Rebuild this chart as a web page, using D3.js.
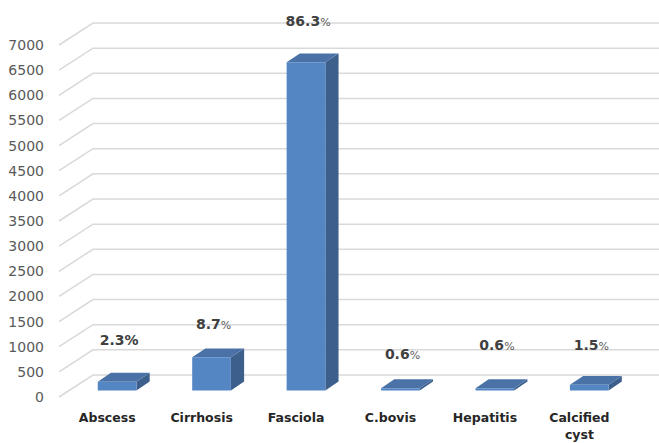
<!DOCTYPE html>
<html>
<head>
<meta charset="utf-8">
<script src="https://cdn.jsdelivr.net/npm/d3@7/dist/d3.min.js"></script>
<style>
  html, body { margin: 0; padding: 0; background: #ffffff; }
  svg { display: block; font-family: "DejaVu Sans", sans-serif; }
</style>
</head>
<body>
<svg id="chart" width="659" height="443"></svg>
<script>
// Liver condemnation causes: case counts per category
const categories = ["Abscess", "Cirrhosis", "Fasciola", "C.bovis", "Hepatitis", "Calcified cyst"];
const counts = [174, 658, 6524, 45, 45, 113];
const yTicks = [0, 500, 1000, 1500, 2000, 2500, 3000, 3500, 4000, 4500, 5000, 5500, 6000, 6500, 7000];

const total = d3.sum(counts);
const shares = counts.map(c => c / total * 100);

const svg = d3.select("#chart");

// 3D layout: front plane of the plot and the depth vector to the back wall
const DX = 33, DY = -22;
const x = d3.scaleBand().domain(categories).range([60, 626.6]).paddingInner(0).paddingOuter(0);
const y = d3.scaleLinear().domain([0, 7000]).range([397, 45]);

const barFront = 0.30;   // depth fraction where the bar's front face sits
const barDepth = 0.40;   // depth fraction occupied by the bar
const barWidthFrac = 0.41;

function pt(px, v, d) { return [px + d * DX, y(v) + d * DY]; }

// Gridlines: diagonal on the floor side, horizontal along the back wall
const grid = svg.append("g").attr("class", "grid");
yTicks.forEach(t => {
  const f = pt(59, t, 0), b = pt(60, t, 1);
  grid.append("path")
    .attr("d", `M${f[0]},${f[1]}L${b[0]},${b[1]}L659,${b[1]}`)
    .attr("fill", "none")
    .attr("stroke", "#d9d9d9")
    .attr("stroke-width", 1.5);
});

// Value axis labels
const yAxis = d3.axisLeft(y).tickValues(yTicks).tickSize(0).tickPadding(15).tickFormat(d3.format("d"));
const ya = svg.append("g").attr("transform", "translate(59,0)").call(yAxis);
ya.select(".domain").remove();
ya.selectAll("text")
  .attr("font-family", "DejaVu Sans, sans-serif")
  .attr("font-size", 14)
  .attr("fill", "#595959");

// Bars as 3D boxes
const colFront = "#5486c4", colTop = "#4a72a6", colSide = "#3d5f8c";
const bars = svg.append("g").attr("class", "bars");
categories.forEach((c, i) => {
  const v = counts[i];
  const bw = x.bandwidth() * barWidthFrac;
  const x0 = x(c) + (x.bandwidth() - bw) / 2, x1 = x0 + bw;
  const d0 = barFront, d1 = barFront + barDepth;
  const ftl = pt(x0, v, d0), ftr = pt(x1, v, d0), fbr = pt(x1, 0, d0), fbl = pt(x0, 0, d0);
  const btl = pt(x0, v, d1), btr = pt(x1, v, d1), bbr = pt(x1, 0, d1);
  const poly = p => "M" + p.map(q => q.join(",")).join("L") + "Z";
  const g = bars.append("g");
  g.append("path").attr("d", poly([ftr, btr, bbr, fbr])).attr("fill", colSide);
  g.append("path").attr("d", poly([ftl, ftr, btr, btl])).attr("fill", colTop);
  g.append("path").attr("d", poly([ftl, ftr, fbr, fbl])).attr("fill", colFront);
});

// Category labels on the front floor edge
const xAxis = d3.axisBottom(x).tickSize(0).tickPadding(0);
const xa = svg.append("g").attr("transform", "translate(0,409)").call(xAxis);
xa.select(".domain").remove();
xa.selectAll("text")
  .attr("font-family", "DejaVu Sans, sans-serif")
  .attr("font-size", 12.5)
  .attr("font-weight", "bold")
  .attr("fill", "#262626")
  .attr("dy", 0)
  .attr("y", 13)
  .each(function (d) {
    const t = d3.select(this);
    const words = d.split(" ");
    if (words.length > 1 && this.getComputedTextLength() > 85) {
      t.text(null);
      words.forEach((w, k) => {
        t.append("tspan").attr("x", 0).attr("dy", k === 0 ? 0 : 17).text(w);
      });
    }
  });

// Share labels above each bar
const labelRaise = [28, 20, 28, 20, 29, 26];
const plainPct = [false, true, true, true, true, true];
const labels = svg.append("g").attr("class", "labels");
categories.forEach((c, i) => {
  const top = pt(x(c) + x.bandwidth() / 2, counts[i], barFront + barDepth);
  const t = labels.append("text")
    .attr("x", x(c) + x.bandwidth() / 2 + 12)
    .attr("y", top[1] - labelRaise[i])
    .attr("text-anchor", "middle")
    .attr("font-family", "DejaVu Sans, sans-serif")
    .attr("fill", "#404040");
  t.append("tspan").attr("font-size", 14).attr("font-weight", "bold").text(d3.format(".1f")(shares[i]));
  t.append("tspan")
    .attr("font-size", plainPct[i] ? 11 : 14)
    .attr("font-weight", plainPct[i] ? "normal" : "bold")
    .attr("fill", plainPct[i] ? "#595959" : "#404040")
    .text("%");
});
</script>
</body>
</html>
